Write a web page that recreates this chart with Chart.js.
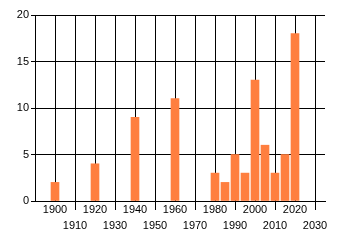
<!DOCTYPE html>
<html>
<head>
<meta charset="utf-8">
<script src="https://cdn.jsdelivr.net/npm/chart.js@4"></script>
<style>
  html, body { margin: 0; padding: 0; background: #fff; }
  #wrap { width: 340px; height: 245px; }
</style>
</head>
<body>
<div id="wrap"><canvas id="chart" width="340" height="245"></canvas></div>
<script>
// Data
const years = [1900, 1920, 1940, 1960, 1980, 1985, 1990, 1995, 2000, 2005, 2010, 2015, 2020];
const counts = [2, 4, 9, 11, 3, 2, 5, 3, 13, 6, 3, 5, 18];
const xTicks = [1900, 1910, 1920, 1930, 1940, 1950, 1960, 1970, 1980, 1990, 2000, 2010, 2020, 2030];
const yTicks = [0, 5, 10, 15, 20];

const ctx = document.getElementById("chart").getContext("2d");

new Chart(ctx, {
    type: "bar",
    data: {
        datasets: [{
            data: years.map((y, i) => ({ x: y, y: counts[i] })),
            backgroundColor: "#FF7F3F",
            borderWidth: 0,
            barThickness: 8,
        }],
    },
    options: {
        responsive: false,
        animation: false,
        layout: { padding: { left: 0, right: 15, top: 15, bottom: 0 } },
        plugins: { legend: { display: false }, tooltip: { enabled: false } },
        scales: {
            x: {
                type: "linear",
                min: 1890,
                max: 2035,
                offset: false,
                afterBuildTicks: (scale) => {
                    scale.ticks = xTicks.map(v => ({ value: v }));
                },
                afterFit: (scale) => { scale.height = 44; },
                grid: {
                    offset: false,
                    color: "#000",
                    lineWidth: 1,
                    tickLength: 9,
                    // only the lower-row labels get a tick mark
                    tickColor: (c) => (c.index % 2 === 1 ? "#000" : "rgba(0,0,0,0)"),
                },
                border: { color: "#000" },
                ticks: {
                    autoSkip: false,
                    maxRotation: 0,
                    padding: -8,
                    color: "#000",
                    font: { family: "Liberation Sans", size: 11, lineHeight: "16px" },
                    callback: (v, i) => (i % 2 === 1 ? ["", String(v)] : String(v)),
                },
            },
            y: {
                min: 0,
                max: 20,
                afterBuildTicks: (scale) => {
                    scale.ticks = yTicks.map(v => ({ value: v }));
                },
                afterFit: (scale) => { scale.width = 35; },
                grid: { color: "#000", lineWidth: 1, tickLength: 4 },
                border: { color: "#000" },
                ticks: {
                    padding: 2,
                    color: "#000",
                    font: { family: "Liberation Sans", size: 11 },
                },
            },
        },
    },
});
</script>
</body>
</html>
